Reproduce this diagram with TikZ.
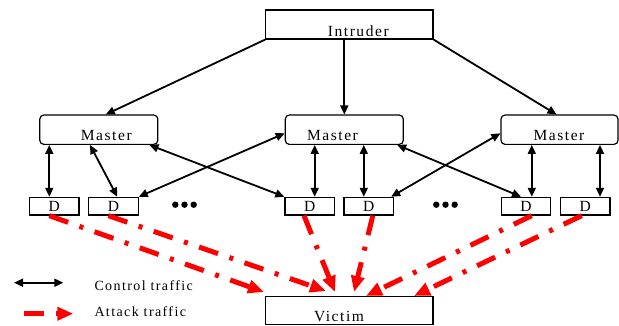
\documentclass[tikz,border=0pt]{standalone}
\usepackage{fontspec}
\setmainfont{Liberation Serif}[LetterSpace=10]
\usetikzlibrary{arrows.meta}

\begin{document}
\begin{tikzpicture}[x=1pt,y=-1pt,
    box/.style={draw,line width=1.2pt,inner sep=0pt},
    bigbox/.style={box,minimum width=167.3pt,minimum height=29pt},
    mbox/.style={box,rounded corners=4pt,minimum width=118pt,minimum height=29.3pt},
    dbox/.style={box,minimum width=49.5pt,minimum height=17.7pt,text height=11pt,text depth=0pt,font=\fontsize{15.5}{16}\selectfont},
    lbl/.style={anchor=base,inner sep=0pt,font=\fontsize{15.5}{16}\selectfont},
    keylbl/.style={anchor=base west,inner sep=0pt,font=\fontsize{14}{15}\selectfont},
    cmd/.style={line width=1.8pt,-{Triangle[length=9pt,width=8pt]}},
    ctrl/.style={line width=1.8pt,{Triangle[length=9pt,width=8pt]}-{Triangle[length=9pt,width=8pt]}},
    attack/.style={red,line width=5pt,dash pattern=on 20pt off 12pt on 4pt off 12pt,-{Triangle[length=16pt,width=13pt]}}]
        % Set picture size
        \useasboundingbox (0,0) rectangle (619,325);

        % Boxes
        \node[bigbox] (intruder) at (349.4,24.5) {};
        \node[mbox] (m1) at (98.8,129.7) {};
        \node[mbox] (m2) at (344.3,129.7) {};
        \node[mbox,minimum width=117pt] (m3) at (559.5,129.7) {};
        \node[bigbox,minimum height=28pt] (victim) at (349.4,310.3) {};

        \node[lbl] (intruderlbl) at (358.3,36) {Intruder};
        \node[lbl] (m1lbl) at (106.3,140.7) {Master};
        \node[lbl] (m2lbl) at (332.5,140.7) {Master};
        \node[lbl] (m3lbl) at (559,140.7) {Master};
        \node[lbl] (victimlbl) at (339,321.5) {Victim};

        \node[dbox] (d1) at (54.3,206.2) {D};
        \node[dbox] (d2) at (113.4,206.2) {D};
        \node[dbox] (d3) at (309.7,206.2) {D};
        \node[dbox] (d4) at (368.8,206.2) {D};
        \node[dbox] (d5) at (526,206.2) {D};
        \node[dbox] (d6) at (585.3,206.2) {D};

        % Dots between daemons
        \foreach \x in {175.3,184.5,193.7} \fill (\x,204.7) circle (3.2pt);
        \foreach \x in {436.3,445.5,454.7} \fill (\x,204.7) circle (3.2pt);

        % Intruder to masters
        \draw[cmd] (intruder.south west) -- ([xshift=7pt]m1.north);
        \draw[cmd] (m2.north |- intruder.south) -- (m2.north);
        \draw[cmd] (intruder.south east) -- ([xshift=-3pt]m3.north);

        % Control traffic
        \draw[ctrl] ([xshift=-5pt]d1.north |- m1.south) -- ([xshift=-5pt]d1.north);
        \draw[ctrl] ([xshift=-8.8pt]m1.south) -- ([xshift=3.9pt]d2.north);
        \draw[ctrl] ([xshift=-9pt]m1.south east) -- (d3.north west);
        \draw[ctrl] ([yshift=-3.6pt]m2.west) -- (d2.north east);
        \draw[ctrl] ([xshift=5pt]d3.north |- m2.south) -- ([xshift=5pt]d3.north);
        \draw[ctrl] ([xshift=-5pt]d4.north |- m2.south) -- ([xshift=-5pt]d4.north);
        \draw[ctrl] ([xshift=-6.7pt]m2.south east) -- ([xshift=-5pt]d5.north);
        \draw[ctrl] ([yshift=-3.6pt]m3.west) -- ([xshift=-3pt]d4.north east);
        \draw[ctrl] ([xshift=5.8pt]d5.north |- m3.south) -- ([xshift=5.8pt]d5.north);
        \draw[ctrl] ([xshift=14.7pt]d6.north |- m3.south) -- ([xshift=14.7pt]d6.north);

        % Attack traffic
        \coordinate (v1) at (264,292);
        \coordinate (v2) at (326,291);
        \coordinate (v3) at (335,292);
        \coordinate (v4) at (354,292);
        \coordinate (v5) at (366,296);
        \coordinate (v6) at (414,296);
        \draw[attack] ([xshift=-5pt]d1.south) -- (v1);
        \draw[attack] ([xshift=-5pt]d2.south) -- (v2);
        \draw[attack] ([xshift=-5.7pt]d3.south) -- (v3);
        \draw[attack] ([xshift=4pt]d4.south) -- (v4);
        \draw[attack] ([xshift=5.7pt]d5.south) -- (v5);
        \draw[attack] ([xshift=-3.6pt]d6.south) -- (v6);

        % Legend
        \coordinate (c1) at (14,282.7);
        \coordinate (c2) at (63.3,282.7);
        \coordinate (a1) at (24,313.7);
        \coordinate (a2) at (73.3,313.7);
        \draw[ctrl] (c1) -- (c2);
        \draw[attack] (a1) -- (a2);
        \node[keylbl] (ctrllbl) at (94.3,290) {Control traffic};
        \node[keylbl] (attacklbl) at (94.3,316.3) {Attack traffic};

        \end{tikzpicture}
\end{document}
